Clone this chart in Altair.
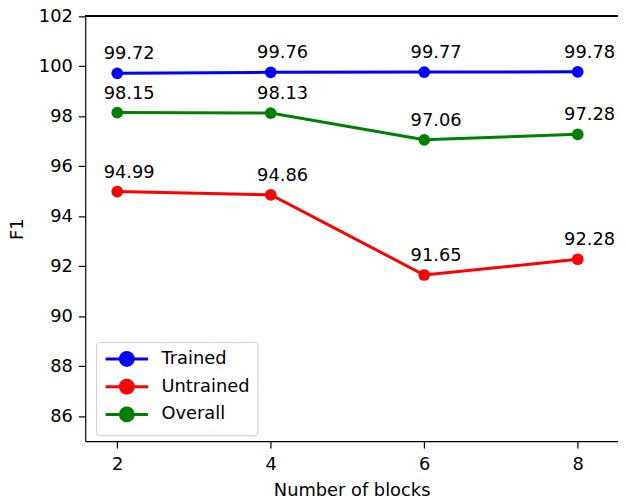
import altair as alt
import pandas as pd

blocks = [2, 4, 6, 8]
series_names = ["Trained", "Untrained", "Overall"]
trained = [99.72, 99.76, 99.77, 99.78]
untrained = [94.99, 94.86, 91.65, 92.28]
overall = [98.15, 98.13, 97.06, 97.28]
colors = ["#0000ff", "#ff0000", "#008000"]

rows = []
for name, vals in zip(series_names, [trained, untrained, overall]):
    for b, v in zip(blocks, vals):
        rows.append({"blocks": b, "F1": v, "series": name})
df = pd.DataFrame(rows)

W, H = 538, 429
FONT = "DejaVu Sans"
FS = 18

x = alt.X("blocks:Q", title="Number of blocks",
          scale=alt.Scale(domain=[1.583, 8.525], nice=False, zero=False),
          axis=alt.Axis(values=[2, 4, 6, 8], format="d", grid=False,
                        labelPadding=8, titlePadding=8))
y = alt.Y("F1:Q", title="F1",
          scale=alt.Scale(domain=[85, 102], nice=False, zero=False),
          axis=alt.Axis(values=list(range(86, 103, 2)), format="d", grid=False,
                        labelPadding=6, titlePadding=12))
color = alt.Color("series:N", sort=series_names,
                  scale=alt.Scale(domain=series_names, range=colors),
                  legend=alt.Legend(
                      title=None, orient="none", legendX=11, legendY=329,
                      symbolType="M-3.07,0L3.07,0M0.93,0A0.93,0.93,0,1,1,-0.93,0A0.93,0.93,0,1,1,0.93,0Z",
                      symbolSize=196, symbolStrokeWidth=3, symbolOffset=14,
                      labelFontSize=FS, labelFont=FONT, labelOffset=26,
                      rowPadding=2, padding=8,
                      strokeColor="#cccccc", cornerRadius=3, fillColor="white"))

base = alt.Chart(df).encode(x=x, y=y, color=color)
lines = base.mark_line(strokeWidth=3)
points = base.mark_point(filled=True, size=140, opacity=1)
labels = base.mark_text(dx=12, dy=-14, baseline="alphabetic", fontSize=FS, font=FONT,
                        color="black").encode(text=alt.Text("F1:Q", format=".2f"),
                                              color=alt.value("black"))
top = alt.Chart(df).mark_rule(color="black", strokeWidth=1.2).encode(
    x=alt.value(0), x2=alt.value(W), y=alt.value(0))

chart = alt.layer(lines, points, labels, top).properties(
    width=W, height=H,
    autosize=alt.AutoSizeParams(type="none"),
    padding={"left": 78, "top": 6, "right": 0, "bottom": 58},
).configure_view(stroke=None).configure_axis(
    domainColor="black", domainWidth=1.2, tickColor="black", tickWidth=1.2,
    tickSize=7, labelFontSize=FS, labelFont=FONT, labelColor="black",
    titleFontSize=FS, titleFont=FONT, titleColor="black", titleFontWeight="normal",
)

chart.save("out.html", embed_options={"renderer": "svg", "actions": False})
